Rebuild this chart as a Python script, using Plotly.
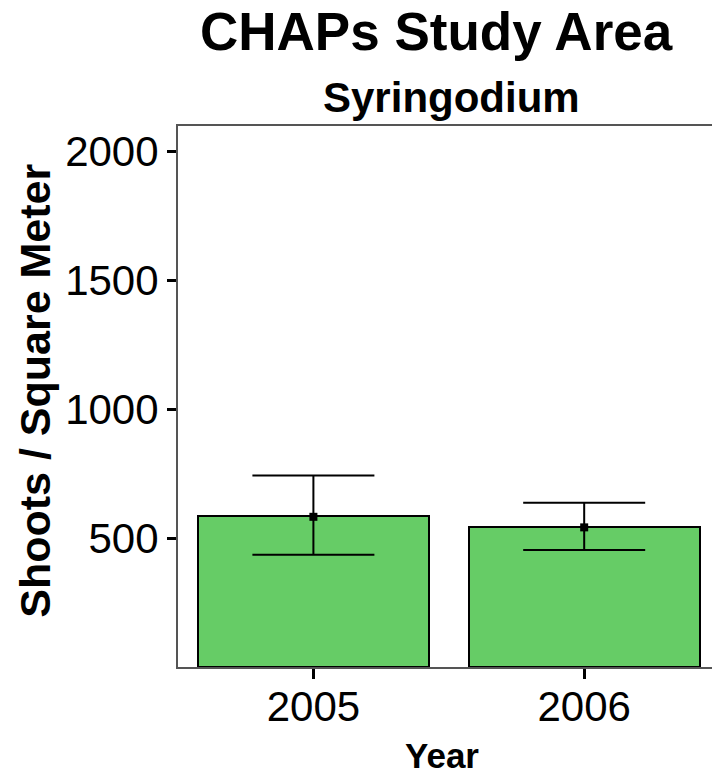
import plotly.graph_objects as go

years = ["2005", "2006"]
means = [585, 544]
err_hi = [160, 96]
err_lo = [147, 88]
point_vals = [583, 542]
y_ticks = [500, 1000, 1500, 2000]

FONT = "Liberation Sans, Arial, sans-serif"

fig = go.Figure()
fig.add_trace(go.Bar(
    x=years, y=means, width=0.852,
    marker=dict(color="#66CC66", line=dict(color="black", width=2)),
    showlegend=False, hoverinfo="skip",
))
fig.add_trace(go.Scatter(
    x=years, y=point_vals, mode="markers",
    marker=dict(symbol="square", size=8, color="black"),
    error_y=dict(type="data", symmetric=False, array=err_hi, arrayminus=err_lo,
                 color="black", thickness=2, width=61),
    showlegend=False,
))

fig.update_layout(
    width=712, height=779,
    margin=dict(l=178, r=0, t=126, b=112),
    plot_bgcolor="white", paper_bgcolor="white",
    font=dict(family=FONT, color="black"),
    bargap=0,
)
fig.update_xaxes(
    type="category", range=[-0.5, 1.472],
    showline=True, linecolor="#555555", linewidth=2, mirror=True,
    ticks="outside", ticklen=10, tickwidth=3, tickcolor="black",
    ticklabelstandoff=-8,
    tickfont=dict(size=42, family=FONT, color="black"),
    showgrid=False, zeroline=False,
)
fig.update_yaxes(
    range=[0, 2100], tickvals=y_ticks,
    showline=True, linecolor="#555555", linewidth=2, mirror=False,
    ticks="outside", ticklen=9, tickwidth=3, tickcolor="black",
    tickfont=dict(size=42, family=FONT, color="black"),
    showgrid=False, zeroline=False,
)

fig.add_annotation(text="<b>CHAPs Study Area</b>", xref="paper", yref="paper",
                   x=0.4845, y=1.175, xanchor="center", yanchor="middle",
                   showarrow=False, font=dict(size=53, family=FONT, color="black"))
fig.add_annotation(text="<b>Syringodium</b>", xref="paper", yref="paper",
                   x=0.5125, y=1.052, xanchor="center", yanchor="middle",
                   showarrow=False, font=dict(size=42, family=FONT, color="black"))
fig.add_annotation(text="<b>Year</b>", xref="paper", yref="paper",
                   x=0.495, y=-0.164, xanchor="center", yanchor="middle",
                   showarrow=False, font=dict(size=35, family=FONT, color="black"))
fig.add_annotation(text="<b>Shoots / Square Meter</b>", xref="paper", yref="paper",
                   x=-0.2678, y=0.5106, xanchor="center", yanchor="middle", textangle=-90,
                   showarrow=False, font=dict(size=43, family=FONT, color="black"))

fig.write_html("out.html")
